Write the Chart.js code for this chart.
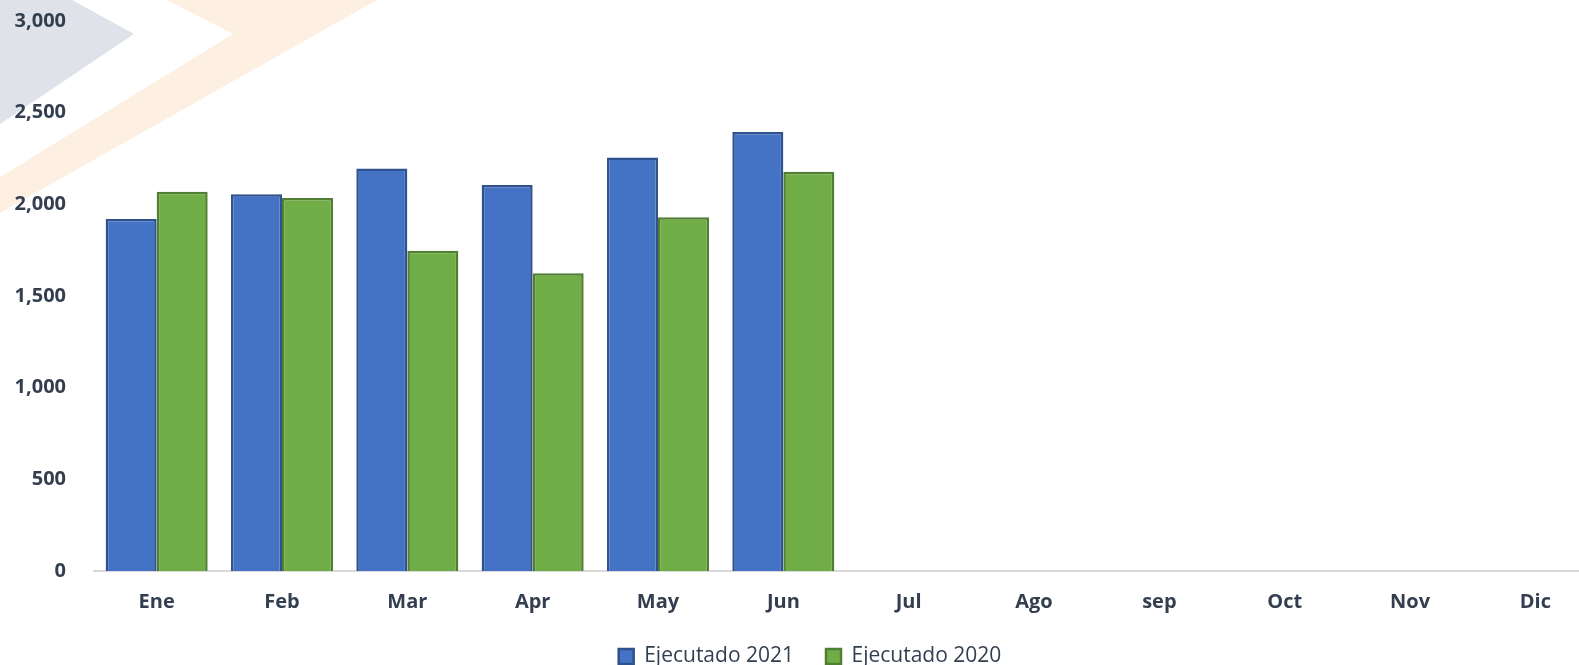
<!DOCTYPE html>
<html>
<head>
<meta charset="utf-8">
<script src="https://cdn.jsdelivr.net/npm/chart.js"></script>
<style>
  html, body { margin: 0; padding: 0; background: #fff; overflow: hidden; }
  #wrap { position: relative; width: 1620px; height: 665px; }
  #deco { position: absolute; left: 0; top: 0; }
  #chart { position: absolute; left: 0; top: -19px; }
</style>
</head>
<body>
<div id="wrap">
  <!-- fondo decorativo (chevrones) -->
  <svg id="deco" width="1620" height="665">
    <polygon points="0,0 72,0 134,34 0,124" fill="#dfe2e8"/>
    <polygon points="167,0 377,0 0,213 0,177 233,34" fill="#fdf0e3"/>
  </svg>
  <canvas id="chart" width="1620" height="696"></canvas>
</div>
<script>
// Datos
const meses = ["Ene", "Feb", "Mar", "Apr", "May", "Jun", "Jul", "Ago", "sep", "Oct", "Nov", "Dic"];
const ejecutado2021 = [1920, 2055, 2196, 2106, 2255, 2395];
const ejecutado2020 = [2069, 2034, 1747, 1624, 1930, 2178];
const ticksY = [0, 500, 1000, 1500, 2000, 2500, 3000];

const colorTexto = "#333f50";

const ctx = document.getElementById("chart").getContext("2d");
new Chart(ctx, {
  type: "bar",
  data: {
    labels: meses,
    datasets: [
      {
        label: "Ejecutado 2021",
        data: ejecutado2021,
        backgroundColor: "#4472c4",
        borderColor: "#2f528f",
        borderWidth: 2.5,
      },
      {
        label: "Ejecutado 2020",
        data: ejecutado2020,
        backgroundColor: "#70ad47",
        borderColor: "#507e32",
        borderWidth: 2.5,
      },
    ],
  },
  options: {
    responsive: false,
    animation: false,
    layout: { padding: { left: 10, right: 10, top: 9, bottom: 0 } },
    datasets: {
      bar: { categoryPercentage: 0.814, barPercentage: 1.0 },
    },
    plugins: {
      tooltip: { enabled: false },
      legend: {
        position: "bottom",
        labels: {
          boxWidth: 15,
          boxHeight: 15,
          padding: 32,
          color: colorTexto,
          font: { family: "'Open Sans'", size: 21 },
        },
      },
    },
    scales: {
      x: {
        grid: { display: false, drawTicks: false },
        border: { display: true, color: "#d9d9d9", width: 2 },
        afterFit: (axis) => { axis.height = 43; },
        ticks: {
          color: colorTexto,
          padding: 19,
          font: { family: "'Open Sans'", size: 20, weight: "bold" },
        },
      },
      y: {
        min: ticksY[0],
        max: ticksY[ticksY.length - 1],
        afterBuildTicks: (axis) => { axis.ticks = ticksY.map((v) => ({ value: v })); },
        afterFit: (axis) => { axis.width = 84; },
        grid: { display: false, drawTicks: false },
        border: { display: false },
        ticks: {
          color: colorTexto,
          padding: 28,
          font: { family: "'Open Sans'", size: 20, weight: "bold" },
          callback: (v) => v.toLocaleString("en-US"),
        },
      },
      // eje vacío a la derecha, solo para dejar margen
      margen: {
        type: "linear",
        position: "right",
        afterFit: (axis) => { axis.width = 12; },
        grid: { display: false, drawTicks: false },
        border: { display: false },
        ticks: { display: false },
      },
    },
  },
});
</script>
</body>
</html>
